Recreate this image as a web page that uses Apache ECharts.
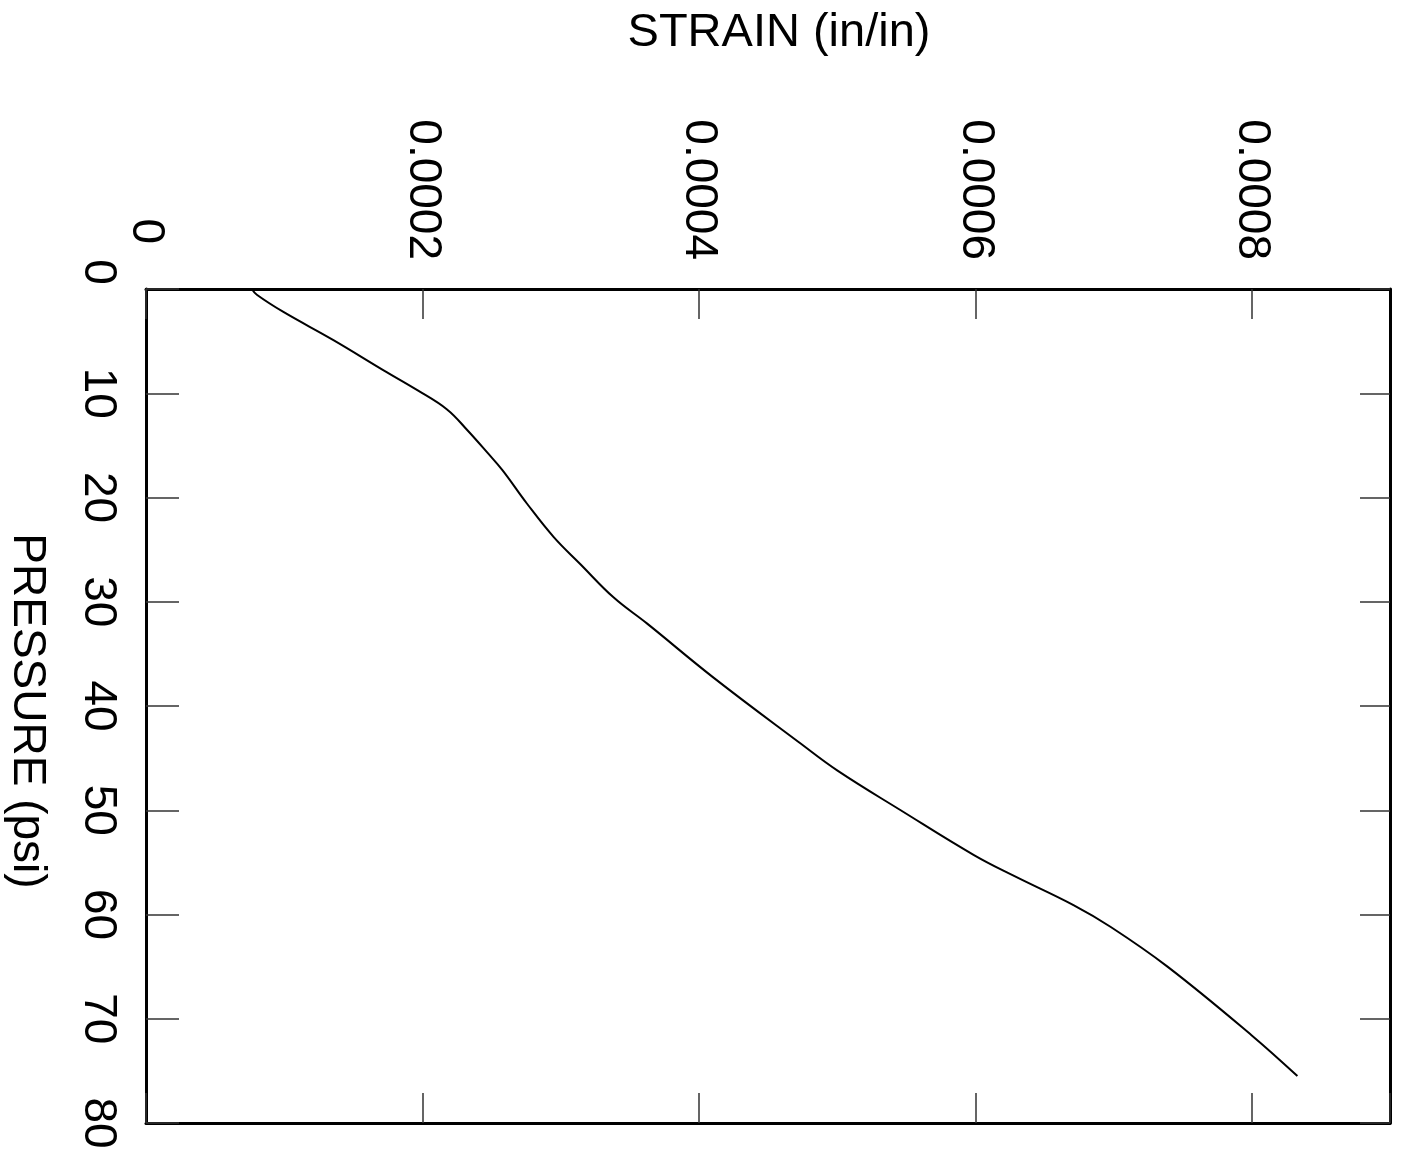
<!DOCTYPE html>
<html>
<head>
<meta charset="utf-8">
<title>Strain vs Pressure</title>
<script src="https://cdn.jsdelivr.net/npm/echarts@6/dist/echarts.min.js"></script>
<style>
  html, body { margin: 0; padding: 0; background: #ffffff; }
  #chart { width: 1402px; height: 1159px; }
</style>
</head>
<body>
<div id="chart"></div>
<script>
// Measured gauge response: pressure (psi) and the strain (in/in) it produced
const pressure = [0, 0.55, 2.2, 4.9, 7.8, 9.7, 11.55, 13.5, 15.7, 17.4, 20.6, 23.8,
                  26.4, 29.6, 32.1, 37.3, 43.6, 46.2, 50.0, 54.3, 56.3, 59.1,
                  61.2, 65.0, 71.6, 75.5];
const strain = [0.0000765, 0.0000802, 0.0000994, 0.0001356, 0.0001719, 0.0001963,
                0.0002178, 0.0002322, 0.000247, 0.000258, 0.0002757, 0.000295,
                0.0003143, 0.0003384, 0.0003626, 0.0004108, 0.0004736,
                0.0005003, 0.000546, 0.000599, 0.000628, 0.000671,
                0.000698, 0.000739, 0.0008, 0.000833];

const strainRange = [0, 0.0009];
const strainStep = 0.0002;
const pressureRange = [0, 80];
const pressureStep = 10;

const FONT = '"Liberation Sans", Arial, sans-serif';
const INK = '#000000';

const points = pressure.map((p, i) => [strain[i], p]);

const chart = echarts.init(document.getElementById('chart'), null, { renderer: 'canvas' });

const frameLine = { show: true, onZero: false, lineStyle: { color: INK, width: 3 } };
const tickStyle = { color: '#333', width: 1.5 };

chart.setOption({
  backgroundColor: '#ffffff',
  animation: false,
  grid: { left: 146, top: 289, right: 12, bottom: 36, containLabel: false, outerBoundsMode: 'none' },
  xAxis: [
    {
      type: 'value',
      position: 'top',
      min: strainRange[0], max: strainRange[1], interval: strainStep,
      name: 'STRAIN (in/in)',
      nameLocation: 'middle',
      nameGap: 232,
      nameTextStyle: { fontFamily: FONT, fontSize: 47, color: INK, padding: [0, 0, 0, 22] },
      axisLine: frameLine,
      axisTick: { show: true, inside: true, length: 30, lineStyle: tickStyle },
      axisLabel: {
        show: true,
        // on a top axis the rotation is mirrored, so this turns the text clockwise
        rotate: 90,
        margin: 29,
        showMaxLabel: false,
        fontFamily: FONT, fontSize: 46, color: INK,
        formatter: v => v === 0 ? '{z|0}' : v.toFixed(4),
        rich: { z: { fontFamily: FONT, fontSize: 46, color: INK, padding: [0, 16, 0, 0] } }
      },
      splitLine: { show: false }
    },
    {
      type: 'value',
      position: 'bottom',
      min: strainRange[0], max: strainRange[1], interval: strainStep,
      axisLine: frameLine,
      axisTick: { show: true, inside: true, length: 30, lineStyle: tickStyle },
      axisLabel: { show: false },
      splitLine: { show: false }
    }
  ],
  yAxis: [
    {
      type: 'value',
      position: 'left',
      inverse: true,
      min: pressureRange[0], max: pressureRange[1], interval: pressureStep,
      name: 'PRESSURE (psi)',
      nameLocation: 'middle',
      nameRotate: -90,
      nameGap: 96,
      nameTextStyle: { fontFamily: FONT, fontSize: 46, color: INK, padding: [0, 0, 0, 10] },
      axisLine: frameLine,
      axisTick: { show: true, inside: true, length: 33, lineStyle: tickStyle },
      axisLabel: {
        show: true,
        rotate: -90,
        margin: 25,
        fontFamily: FONT, fontSize: 46, color: INK,
        formatter: v => v === 0 ? '{z|0}' : String(v),
        rich: { z: { fontFamily: FONT, fontSize: 46, color: INK, padding: [0, 34, 0, 0] } }
      },
      splitLine: { show: false }
    },
    {
      type: 'value',
      position: 'right',
      inverse: true,
      min: pressureRange[0], max: pressureRange[1], interval: pressureStep,
      axisLine: frameLine,
      axisTick: { show: true, inside: true, length: 30, lineStyle: tickStyle },
      axisLabel: { show: false },
      splitLine: { show: false }
    }
  ],
  series: [
    {
      type: 'line',
      xAxisIndex: 0,
      yAxisIndex: 0,
      data: points,
      smooth: 0.4,
      showSymbol: false,
      lineStyle: { color: INK, width: 2 }
    }
  ]
});
</script>
</body>
</html>
